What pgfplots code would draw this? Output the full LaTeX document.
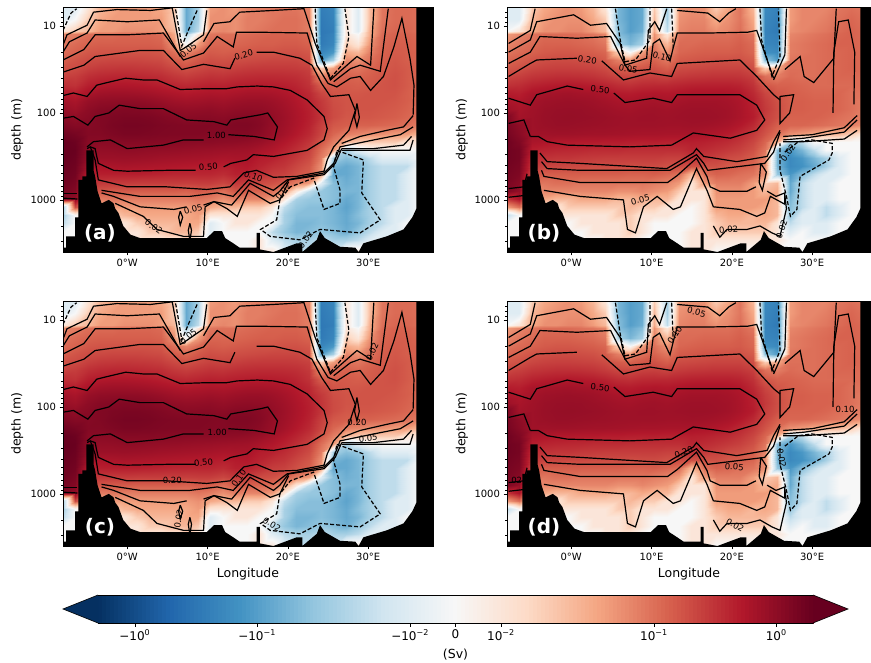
\documentclass[border=0pt]{standalone}
\usepackage{pgfplots}
\pgfplotsset{compat=1.18}
\usepackage{fontspec}
\setmainfont{DejaVu Sans}
\pgfplotsset{colormap={rdbu}{rgb255=(5,48,97) rgb255=(33,102,172) rgb255=(67,147,195) rgb255=(146,197,222) rgb255=(209,229,240) rgb255=(247,247,247) rgb255=(253,219,199) rgb255=(244,165,130) rgb255=(214,96,77) rgb255=(178,24,43) rgb255=(103,0,31)}}
% transport in 10^-2 Sv per grid node; lon = -8 + 1.53 i; symlog colour position computed per value
\def\stopmark{x}
\def\GRow#1#2{\def\GDepth{#1}\def\GLon{-8}\GRest#2 x }
\def\GRest#1 {\def\GTmp{#1}\ifx\GTmp\stopmark\else
 \pgfmathsetmacro\GMeta{(#1)/max(abs(#1),1)*(min(abs(#1),1)*.127+.428*min(log10(max(abs(#1),1)),1)+.342*max(log10(max(abs(#1),1))-1,0))}%
 \edef\GCur{\GCur (\GLon,\GDepth) [\GMeta]}%
 \pgfmathsetmacro\GLon{\GLon+1.53}%
 \expandafter\GRest\fi}
\def\GCur{}
\GRow{6.03}{-1 -1 1 3 4 5 5 5 4 2 -8 -3 5 6 5 7 8 9 9 9 7 -25 -20 1 -1 3 9 11 11 10}
\GRow{8.37}{-1 0 2 4 5 5 5 5 5 2 -8 -3 6 6 6 8 8 9 10 10 8 -28 -22 1 -1 3 9 11 11 10}
\GRow{11.5}{1 2 3 5 5 6 6 6 5 3 -8 -2 6 7 6 8 9 10 10 10 8 -30 -25 1 -1 4 10 12 12 10}
\GRow{12.3}{7 8 10 11 11 12 12 12 11 4 -3 1 9 10 10 11 12 13 13 13 11 -30 -22 1 0 4 11 13 13 11}
\GRow{16}{9 11 13 14 14 14 14 14 13 6 0 5 12 12 12 13 14 14 15 15 13 -28 -20 2 1 6 12 14 14 12}
\GRow{19.9}{11 13 16 17 17 17 17 17 16 10 7 11 15 14 15 16 17 17 18 18 16 -20 -12 4 3 8 13 15 14 13}
\GRow{24.7}{14 17 20 21 22 22 22 21 20 15 12 16 19 18 19 20 21 22 22 22 19 -10 -3 7 6 10 14 16 14 13}
\GRow{30.6}{18 20 25 28 29 30 29 28 26 21 18 21 24 23 25 27 28 28 28 27 24 2 5 10 9 12 15 17 15 13}
\GRow{38}{24 26 34 38 40 40 39 37 35 29 26 29 32 31 34 36 37 37 36 34 28 7 10 13 12 14 16 18 15 12}
\GRow{47.2}{34 32 46 52 55 55 53 50 46 41 38 41 44 43 46 48 49 48 46 41 32 14 14 15 14 15 17 18 15 12}
\GRow{58.6}{50 46 62 72 75 75 72 68 62 56 52 55 58 56 60 64 64 62 56 48 38 22 17 16 16 17 17 17 14 12}
\GRow{72.7}{70 62 85 95 98 100 98 92 84 74 70 72 76 72 78 82 82 76 66 54 42 28 19 17 17 17 17 16 14 11}
\GRow{90.2}{85 75 100 115 120 125 122 115 105 95 90 92 95 88 95 98 95 85 72 58 45 30 20 17 17 17 16 15 13 11}
\GRow{112}{105 95 110 125 135 140 140 135 125 115 108 110 110 105 115 118 110 92 76 60 46 30 20 16 16 16 15 14 12 10}
\GRow{139}{130 115 115 125 140 150 150 145 135 130 125 125 125 120 130 130 115 90 74 58 43 25 16 14 13 13 12 11 10 8}
\GRow{173}{170 150 120 120 130 140 140 135 130 128 125 125 120 118 120 120 105 85 68 52 38 22 12 8 7 6 6 5 5 3}
\GRow{214}{200 180 110 105 108 115 115 115 112 110 108 105 105 100 98 92 82 68 54 42 30 16 8 3 2 2 2 2 1 1}
\GRow{266}{200 190 100 90 92 96 96 92 90 88 85 82 80 76 74 72 62 54 44 34 24 10 5 -3 -1 0 0 0 0 0}
\GRow{330}{200 180 90 78 78 80 78 76 72 70 68 66 64 60 62 62 48 44 36 28 20 8 -3 -5 -4 -2 -1 -1 -1 0}
\GRow{410}{190 170 70 58 60 62 60 58 56 54 52 50 50 46 50 52 42 34 30 22 16 6 -6 -8 -6 -3 -2 -2 -2 0}
\GRow{509}{180 160 48 46 46 46 46 44 42 40 40 40 40 36 44 44 34 26 24 18 14 5 -8 -8 -6 -3 -2 -2 -1 0}
\GRow{632}{170 140 30 28 27 27 26 26 26 26 25 26 26 22 28 26 20 18 14 8 5 -1 -5 -7 -6 -3 -2 -2 -1 0}
\GRow{785}{150 120 20 16 15 15 14 14 14 14 13 15 14 10 16 14 12 10 5 1 -2 -4 -5 -6 -6 -3 -2 -2 -1 0}
\GRow{975}{120 100 10 8 9 8 8 8 8 8 8 9 8 6 8 7 7 5 1 -3 -4 -4 -5 -8 -6 -3 -2 -2 -1 0}
\GRow{1210}{-3 20 6 3 5 5 5 5 5 5 5 6 4 3 3 2 2 1 -2 -4 -5 -5 -6 -9 -6 -3 -2 -1 -1 0}
\GRow{1503}{-3 0 2 1 2 3 4 4 4 4 4 5 1 1 1 1 1 0 -3 -5 -5 -5 -6 -8 -5 -3 -2 -1 -1 0}
\GRow{1865}{-2 0 1 1 1 1 2 3 3 3 4 4 -1 0 1 1 0 0 -3 -6 -6 -5 -6 -8 -6 -3 -2 -1 0 0}
\GRow{2315}{0 0 1 1 1 1 1 2 2 3 3 2 -1 0 0 0 0 -2 -4 -6 -5 -4 -5 -7 -4 -2 -1 -1 0 0}
\GRow{2875}{0 0 0 0 0 1 1 1 1 1 2 1 0 0 0 0 1 -1 -2 -3 -3 -2 -3 -3 -2 -1 -1 0 0 0}
\GRow{3981}{0 0 0 0 0 0 0 0 0 0 0 0 0 0 0 0 1 1 -1 -2 -2 -1 -1 1 1 0 0 0 0 0}
\let\GridA\GCur
\def\GCur{}
\GRow{6.03}{-1 -1 2 4 5 6 5 3 1 -6 -10 -8 2 -3 5 6 6 2 4 9 3 -18 -22 5 7 7 7 9 10 9}
\GRow{8.37}{-1 -1 3 5 6 6 6 4 2 -6 -10 -8 3 -3 6 7 7 4 6 9 4 -20 -25 5 7 7 8 10 12 10}
\GRow{11.5}{0 1 4 6 6 7 7 5 3 -5 -10 -7 4 -2 7 8 8 6 7 10 5 -22 -28 6 7 8 9 11 13 11}
\GRow{12.3}{5 7 9 11 11 11 10 9 7 -5 -8 -5 6 1 9 10 10 10 10 12 9 -22 -25 7 8 9 10 12 13 11}
\GRow{16}{7 9 11 13 13 13 12 11 9 -3 -6 -3 8 3 11 11 12 12 12 14 11 -20 -22 8 9 10 11 13 13 11}
\GRow{19.9}{9 11 13 15 16 16 15 14 12 2 0 5 10 6 12 13 14 14 14 15 12 -15 -18 8 9 10 11 12 13 11}
\GRow{24.7}{12 14 17 19 20 20 19 18 15 8 6 10 13 9 15 16 17 18 18 18 15 -5 -10 9 10 10 11 12 13 11}
\GRow{30.6}{16 18 22 24 25 25 24 23 20 15 13 16 18 14 20 21 22 23 23 23 19 2 4 10 10 10 11 12 13 11}
\GRow{38}{22 25 30 32 34 34 33 31 27 22 21 24 25 23 27 29 30 31 31 30 25 10 8 11 10 10 11 12 12 10}
\GRow{47.2}{32 35 43 47 50 52 50 47 42 35 33 37 38 38 41 44 45 45 45 42 32 16 13 13 12 11 11 11 11 10}
\GRow{58.6}{48 46 60 65 68 70 66 64 57 50 48 52 54 52 56 60 60 60 58 52 38 22 16 14 13 12 12 12 10 9}
\GRow{72.7}{60 55 68 75 78 80 78 74 68 62 60 64 66 62 66 70 70 70 66 58 44 26 18 14 14 13 13 12 10 8}
\GRow{90.2}{75 62 72 80 84 85 84 80 76 70 68 72 74 70 74 76 76 74 70 60 46 28 19 14 14 13 13 12 10 8}
\GRow{112}{130 68 74 82 86 88 86 84 80 76 74 76 76 74 76 78 78 76 70 60 48 25 18 13 13 13 12 10 9 8}
\GRow{139}{140 100 74 80 84 84 82 80 78 75 74 74 74 72 72 74 72 68 62 52 38 22 14 12 12 11 10 9 8 6}
\GRow{173}{150 110 72 72 74 74 72 70 70 68 66 64 64 62 62 62 58 54 48 38 28 17 10 6 5 4 3 3 2 1}
\GRow{214}{170 130 60 56 52 52 50 50 48 48 46 45 46 44 44 46 44 40 36 30 22 12 3 -3 -2 0 0 0 0 0}
\GRow{266}{170 150 46 42 40 39 38 36 36 36 34 34 34 34 34 40 36 32 28 24 18 9 -5 -12 -6 -2 0 0 0 0}
\GRow{330}{170 150 34 32 30 30 28 27 26 26 26 26 26 24 24 32 28 24 20 18 14 7 -6 -18 -12 -6 -3 -1 0 0}
\GRow{410}{160 140 28 23 22 21 21 20 20 20 19 20 20 18 20 18 18 18 15 14 12 6 -6 -18 -14 -8 -3 -1 0 0}
\GRow{509}{150 130 20 14 14 14 14 14 14 14 13 13 14 12 10 3 10 13 12 10 9 6 -4 -12 -5 -2 -1 -1 0 0}
\GRow{632}{140 110 10 9 10 10 9 9 9 9 9 9 8 7 5 1 5 8 8 8 5 2 3 -8 -2 -1 -1 0 0 0}
\GRow{785}{130 90 6 7 7 7 7 7 7 6 6 7 6 5 2 1 1 6 6 6 5 3 4 -8 -2 -1 -1 0 0 0}
\GRow{975}{30 60 3 4 3 3 4 4 4 3 3 4 3 3 1 1 1 5 5 5 5 5 3 -6 -2 -1 -1 0 0 0}
\GRow{1210}{5 10 1 1 1 2 2 2 2 2 3 2 2 1 1 0 1 5 5 5 5 4 3 -5 -2 -1 -2 -1 0 0}
\GRow{1503}{-2 0 0 0 1 1 1 1 1 2 2 1 1 1 0 0 1 3 4 4 3 4 3 -4 -1 -1 -2 -1 0 0}
\GRow{1865}{0 0 0 0 0 0 1 1 1 1 2 1 0 0 0 0 1 2 3 3 3 3 1 -2 -1 -1 -1 0 0 0}
\GRow{2315}{0 0 0 0 0 0 0 1 1 1 2 1 0 0 0 1 1 2 2 2 2 2 1 -1 0 -1 -1 0 0 0}
\GRow{2875}{0 0 0 0 0 0 0 0 1 1 1 0 0 0 0 1 1 1 1 1 1 1 1 0 0 0 0 0 0 0}
\GRow{3981}{0 0 0 0 0 0 0 0 0 0 0 0 0 0 0 1 1 0 0 0 0 0 0 0 0 0 0 0 0 0}
\let\GridB\GCur
\newcommand\heat[1]{\edef\tmpplot{\noexpand\addplot[surf,shader=interp,mesh/cols=30,point meta=explicit] coordinates {#1};}\tmpplot}
% contours and bathymetry: lon, log10(depth)
\newcommand\CS[1]{\addplot[black,line width=1.2pt] table[row sep=crcr,header=false,x index=0,y expr=10^\thisrowno{1}]{#1};}
\newcommand\CD[1]{\addplot[black,line width=1.2pt,dash pattern=on 4pt off 2pt] table[row sep=crcr,header=false,x index=0,y expr=10^\thisrowno{1}]{#1};}
\newcommand\Lb[4]{\node[font=\fontsize{8.5}{9}\selectfont,rotate=#3,inner sep=0pt] at (axis cs:#1,#2) {#4};}
\newcommand\Bathy{\addplot[fill=black,draw=none] table[row sep=crcr,header=false,x index=0,y expr=10^\thisrowno{1}]{-8 3.7\\-8 3.55\\-7.6 3.55\\-7.6 3.42\\-6.5 3.42\\-6.5 3.2\\-6.1 3.2\\-6.1 2.77\\-5.6 2.77\\-5.6 2.73\\-5.1 2.73\\-5.1 2.43\\-4.2 2.43\\-4.2 2.66\\-4 2.73\\-3.7 2.9\\-3.2 3.04\\-2.3 3\\-1.7 3.04\\-1.5 3.1\\-1.1 3.15\\-.5 3.3\\.4 3.4\\1.6 3.44\\9.9 3.44\\10.8 3.36\\11.8 3.36\\12.2 3.44\\13.2 3.5\\14 3.55\\16.1 3.55\\16.1 3.38\\16.5 3.38\\16.5 3.57\\18.2 3.6\\21.1 3.5\\21.8 3.5\\21.8 3.6\\23.6 3.46\\24 3.36\\24.6 3.44\\26.5 3.54\\28.4 3.55\\28.8 3.6\\29.4 3.5\\32.3 3.42\\34.4 3.34\\35.5 3.2\\36 3.1\\36 .7\\38.5 .7\\38.5 3.7\\};}
\newcommand\ContA{%
\CS{-8 2.06\\-6.7 2.04\\-4.9 2.14\\-4 2.04\\-2.3 2\\-1 1.91\\1.6 1.95\\4.5 1.95\\7.4 2.08\\10.8 2.1\\12.4 2.14\\12.9 2.08\\16.6 2.02\\17.5 2\\18.7 2.16\\18.3 2.31\\15.8 2.27\\12.6 2.25\\}
\CS{9.5 2.31\\7 2.31\\4.5 2.37\\0 2.41\\-2.1 2.31\\-4.2 2.33\\-5 2.39\\}
\CS{-8 1.8\\-6.7 1.77\\-5 1.81\\-3.8 1.68\\-2.5 1.65\\-.2 1.6\\2 1.62\\3.7 1.62\\6.6 1.73\\10 1.72\\12.4 1.72\\13.7 1.7\\16.2 1.69\\18.2 1.7\\20.3 1.74\\22.4 1.85\\24.5 2.04\\24.9 2.18\\24.5 2.31\\22.4 2.43\\18.2 2.5\\15.7 2.48\\14.9 2.54\\12.9 2.58\\12 2.62\\}
\CS{8.5 2.66\\4.9 2.66\\0 2.67\\-1.7 2.66\\-3.6 2.58\\-3.8 2.5\\-4 2.41\\-4.6 2.39\\-5 2.41\\}
\CS{-8 1.53\\-5.4 1.45\\-4 1.35\\1.6 1.28\\4.5 1.28\\6.8 1.5\\9.5 1.44\\12.8 1.49\\13.4 1.37\\}
\CS{16.1 1.3\\18.2 1.3\\21.5 1.37\\23 1.45\\24.2 1.66\\25.3 1.81\\27.6 1.79\\28.4 1.97\\27.6 2.2\\25.7 2.39\\24.9 2.54\\24.5 2.67\\21.1 2.73\\18.2 2.74\\16.1 2.66\\14.5 2.69\\12.8 2.85\\9.9 2.88\\4.9 2.85\\0 2.85\\-3.6 2.77\\-4 2.54\\-4.6 2.39\\}
\CS{-8 1.22\\-7.5 1.1\\-5 .99\\-4.2 .84\\-1.3 .81\\2.9 .82\\5.6 .79\\6.6 1.28\\7 1.26\\9.5 1.1\\9.9 .82\\}
\CS{-8 1.3\\-7.2 1.18\\-5 1.08\\-4 .93\\0 .95\\4 .93\\6.6 1.35\\}
\CS{9.5 1.18\\10.8 .97\\12.8 .95\\14 .84\\18.2 .82\\22 .8\\23.4 1.2\\25.3 1.62\\26.5 1.52\\28.6 1.35\\30.3 1.45\\30.7 .8\\}
\CS{-8 1.39\\-5.4 1.27\\-4 1.1\\0 1.1\\4.5 1.08\\7 1.39\\9.5 1.31\\11.2 1.12\\13.2 1.24\\13.6 1.07\\16.2 1.07\\22.4 1.08\\23.6 1.45\\25 1.66\\}
\CS{25.7 1.64\\27.8 1.49\\29 1.45\\31.5 1.52\\32.5 .8\\}
\CS{25 1.66\\26.1 1.7\\27.8 1.6\\29 1.58\\30.3 1.74\\31.9 1.58\\33.2 1.24\\34.2 .91\\35.2 1.37\\35.7 1.68\\35.6 2.02\\}
\CS{28.6 1.89\\28.3 2.05\\28.6 2.16\\28.9 2.05\\28.6 1.89\\}
\CS{-3.2 2.89\\1.6 2.96\\7.8 2.96\\11.2 2.92\\13.2 2.96\\15.1 2.77\\18.2 2.89\\19.9 2.77\\24.5 2.69\\25.7 2.58\\26.5 2.39\\30.7 2.31\\34 2.25\\35.6 2.16\\}
\CS{26.7 2.35\\29 2.27\\32.3 2.2\\34.4 2.16\\35.6 2.03\\}
\CS{26.7 2.41\\30.7 2.41\\34.4 2.37\\35.4 2.27\\}
\CS{26.7 2.43\\30.7 2.43\\35.2 2.43\\35.6 2.31\\}
\CS{-3.2 2.92\\-1.7 2.96\\1.6 3.08\\5.8 3.11\\7.4 3.08\\}
\CS{9.5 3.06\\10.8 3.02\\13 3.06\\15.3 2.81\\18.2 2.96\\19 2.9\\20.1 2.77\\24.5 2.71\\25.9 2.58\\26.7 2.41\\}
\CS{-1.5 3.04\\2 3.19\\3.7 3.34\\7 3.42\\9.5 3.42\\9.7 3.08\\10.8 3.02\\12.4 3.1\\13.7 3.19\\15.1 2.89\\17.8 3.04\\19 3\\20.1 2.79\\}
\CS{6.6 3.13\\6.9 3.2\\6.6 3.29\\6.4 3.2\\6.6 3.13\\}
\CS{7.8 3.27\\8 3.35\\7.8 3.47\\7.6 3.35\\7.8 3.27\\}
\CS{-8 2.93\\-6.2 2.93\\}
\CS{-8 2.98\\-6.2 2.99\\}
\CD{26.1 2.43\\29.4 2.54\\29.2 2.92\\31.5 3.23\\29 3.38\\24 3.34\\21.5 3.46\\17.8 3.42\\16.6 3.34\\18.6 3.23\\19 3\\20.3 2.85\\23.2 2.75\\24.5 3.11\\26.5 3.04\\26.5 2.89\\25.7 2.62\\26.1 2.43\\}
\CD{23.4 .8\\23.6 1.2\\25.3 1.6\\26.9 1.43\\27.6 1.12\\27.1 .8\\}
\CD{8.7 .82\\7.6 1.05\\6.8 1.23\\6.2 .9\\6 .8\\}
\CD{-8 1.05\\-7 .85\\-6.3 .8\\}
}
\newcommand\ContB{%
\CS{-7.8 1.2\\-5.1 1.05\\-4.5 .8\\}
\CS{-7.8 1.3\\-5.1 1.16\\-4.3 .95\\.3 .87\\2.4 .99\\4.4 .97\\6.1 1.2\\6.7 1.45\\9.4 1.37\\9.6 1.05\\10.4 .95\\11 1.05\\11.9 .8\\}
\CS{-7.8 1.43\\-5.1 1.3\\-3.9 1.12\\.7 1.14\\4.9 1.12\\6.7 1.45\\7.3 1.52\\9.8 1.5\\10.2 1.2\\11 1.15\\12.3 1.4\\12.7 1.25\\13.2 1.08\\17 1.08\\22 1.07\\23.1 1.05\\25.2 1.6\\}
\CS{13.2 .82\\17 .85\\18.5 .95\\19.6 .85\\20.5 .8\\}
\CS{-7.8 1.58\\-5.1 1.43\\-4.3 1.39\\.7 1.37\\}
\CS{3.8 1.4\\6.5 1.62\\9.8 1.54\\12.5 1.58\\13.2 1.43\\21 1.39\\23.1 1.58\\25.2 1.79\\26 1.85\\}
\CS{-7.8 1.83\\-5.1 1.91\\-4.3 1.79\\-.5 1.69\\1.5 1.73\\}
\CS{5.3 1.77\\6.7 1.88\\10.2 1.83\\12.5 1.88\\13.2 1.79\\21 1.79\\23.1 1.91\\24.1 2.08\\23.1 2.2\\19.8 2.29\\15.2 2.23\\12.5 2.37\\7.3 2.39\\-.5 2.37\\-3 2.33\\-4.1 2.27\\-5.1 2.27\\}
\CS{-7.8 2.12\\-5.9 2.08\\-5.1 2.27\\}
\CS{-7.8 2.87\\-5.9 2.85\\-5.5 2.7\\}
\CS{-7.8 2.97\\-5.9 2.95\\}
\CS{-3.9 2.46\\-3 2.56\\1.1 2.58\\11.9 2.64\\15.2 2.46\\15.6 2.41\\16.5 2.5\\20.6 2.56\\24.4 2.5\\25.2 2.33\\26 2.2\\}
\CS{-3.7 2.56\\-3 2.64\\1.1 2.66\\12.3 2.66\\15.6 2.48\\16.5 2.58\\17 2.66\\24.1 2.58\\25.2 2.45\\26 2.22\\}
\CS{-3.7 2.66\\-3.4 2.73\\1.1 2.8\\6 2.8\\12 2.8\\13.2 2.72\\15.6 2.52\\16.9 2.73\\17.3 2.85\\18.5 2.9\\21.9 2.9\\23 2.85\\}
\CS{-3.4 2.89\\1.1 2.96\\6.5 3\\7 3.34\\8 3.38\\9 3.08\\10.7 2.96\\12.7 3.11\\13.6 3.08\\15.6 2.64\\16.9 2.89\\17.7 3.08\\21 3.11\\23.1 3.19\\24.1 3.15\\24.8 2.96\\26.6 3.05\\26.6 2.92\\25.5 2.96\\24.4 2.9\\}
\CS{17.7 3.3\\18.5 3.43\\19.4 3.34\\21.9 3.34\\23.5 3.3\\25 3.38\\26 3.42\\26.8 3.1\\26.6 2.95\\}
\CS{23.6 2.58\\24.3 2.68\\23.8 2.89\\23.4 2.8\\23.6 2.58\\}
\CS{26.8 .8\\26.6 1.33\\25.2 1.62\\}
\CS{26.6 1.5\\28.5 1.35\\29 1.58\\30.2 1.65\\32.7 1.37\\33 .8\\}
\CS{32.6 2.0\\32.7 1.3\\33.3 .95\\34.5 .93\\35.3 1.3\\35.2 1.9\\}
\CS{26 1.81\\27.7 1.79\\27.2 2\\26 2.12\\26 1.81\\}
\CS{26.4 2.27\\30 2.25\\34 2.17\\35.6 2.03\\}
\CS{26.4 2.31\\29 2.29\\34 2.22\\35.6 2.08\\}
\CS{26.4 2.33\\29 2.33\\34 2.3\\35.6 2.2\\}
\CD{26.6 2.45\\28.3 2.33\\30 2.31\\32.5 2.35\\32.5 2.46\\32.1 2.54\\28.5 2.73\\28.1 3.11\\27.3 3.19\\26.8 2.96\\26 2.66\\26 2.35\\}
\CD{5.5 .8\\6.1 1.16\\6.7 1.41\\8 1.39\\9.8 1.16\\9.8 .8\\}
\CD{23.5 .8\\23.7 1.16\\25 1.58\\26 1.35\\25.8 .8\\}
\CD{12.5 .8\\12.7 1.25\\}
}
\pgfplotsset{panel/.style={scale only axis,height=245pt,anchor=north west,
 xmin=-8,point meta min=-1,point meta max=1,colormap name=rdbu,
 xtick={0,10,20,30},xticklabels={0°W,10°E,20°E,30°E},
 ytick={10,100,1000},yticklabels={10,100,1000},
 minor ytick={7,8,9,20,30,40,50,60,70,80,90,200,300,400,500,600,700,800,900,2000,3000},
 xtick pos=bottom,ytick pos=left,tick align=outside,
 tick style={black,line width=.6pt},major tick length=3.5pt,minor tick length=2pt,
 axis line style={line width=.6pt},axis on top,
 tick label style={font=\fontsize{10}{12}\selectfont},
 label style={font=\fontsize{12.5}{14}\selectfont},
 ylabel={depth (m)},ylabel style={at={(axis description cs:-.124,.5)},anchor=center},
 xlabel style={at={(axis description cs:.5,-.115)},anchor=center},
 clip=true}}
\newcommand\Letter[1]{\node[font=\fontsize{20}{21}\selectfont\bfseries,white] at (axis cs:-3.4,2400) {#1};}
\begin{document}
\begin{tikzpicture}
\useasboundingbox (0,0) rectangle (871pt,-663pt);
% (a)
\begin{axis}[ymode=log,y dir=reverse,ymin=6.03,ymax=3981,panel,width=370pt,at={(63pt,-7pt)},xmax=38.07]
\heat{\GridA}\ContA\Bathy
\Lb{7.6}{19}{40}{0.05}\Lb{14.5}{21.5}{15}{0.20}\Lb{11.1}{182}{0}{1.00}\Lb{10.1}{417}{5}{0.50}\Lb{15.7}{537}{-20}{0.10}\Lb{8.2}{1288}{15}{0.05}\Lb{3.3}{2042}{-35}{0.02}\Lb{22.2}{2884}{55}{0.02}\Lb{19.4}{794}{50}{0.02}
\Letter{(a)}
\end{axis}
% (b)
\begin{axis}[ymode=log,y dir=reverse,ymin=6.03,ymax=3981,panel,width=364pt,at={(507pt,-7pt)},xmax=37.33]
\heat{\GridB}\ContB\Bathy
\Lb{2}{24.5}{-10}{0.20}\Lb{3.6}{54}{-5}{0.50}\Lb{7.1}{31}{-10}{0.05}\Lb{11.3}{22.6}{-15}{0.10}\Lb{8.6}{1000}{15}{0.05}\Lb{19.6}{2188}{5}{0.02}\Lb{26.2}{2188}{70}{0.02}\Lb{27}{288}{55}{0.02}
\Letter{(b)}
\end{axis}
% (c)
\begin{axis}[ymode=log,y dir=reverse,ymin=6.03,ymax=3981,panel,width=370pt,at={(63pt,-301pt)},xmax=38.07,xlabel={Longitude}]
\heat{\GridA}\ContA\Bathy
\Lb{7.6}{15.5}{40}{0.05}\Lb{30.5}{23}{65}{0.02}\Lb{11.2}{195}{0}{1.00}\Lb{9.5}{437}{5}{0.50}\Lb{5.6}{692}{0}{0.20}\Lb{28.6}{151}{0}{0.20}\Lb{30}{229}{5}{0.05}\Lb{13.9}{660}{55}{0.10}\Lb{6.4}{1950}{80}{0.02}\Lb{18}{2240}{-30}{0.02}
\Letter{(c)}
\end{axis}
% (d)
\begin{axis}[ymode=log,y dir=reverse,ymin=6.03,ymax=3981,panel,width=364pt,at={(507pt,-301pt)},xmax=37.33,xlabel={Longitude}]
\heat{\GridB}\ContB\Bathy
\Lb{3.6}{60}{-5}{0.50}\Lb{15.6}{8.1}{-15}{0.05}\Lb{12.9}{14.8}{55}{0.10}\Lb{14}{331}{20}{0.20}\Lb{20.3}{490}{-5}{0.05}\Lb{20.4}{2290}{-30}{0.02}\Lb{34.1}{107}{0}{0.10}\Lb{26.2}{389}{-80}{0.02}\Lb{-7.3}{708}{0}{0.02}
\Letter{(d)}
\end{axis}
% colour bar
\begin{axis}[scale only axis,width=715pt,height=28pt,at={(98pt,-595pt)},anchor=north west,
 xmin=-1,xmax=1,ymin=0,ymax=1,clip=false,ytick=\empty,axis on top,view={0}{90},
 point meta min=-1,point meta max=1,colormap name=rdbu,
 xtick={-.897,-.555,-.127,0,.127,.555,.897},
 xticklabels={−10\textsuperscript{0},−10\textsuperscript{−1},−10\textsuperscript{−2},0,10\textsuperscript{−2},10\textsuperscript{−1},10\textsuperscript{0}},
 xtick pos=bottom,tick align=outside,tick style={black,line width=.6pt},major tick length=3.5pt,
 tick label style={font=\fontsize{12}{14}\selectfont},
 xlabel={(Sv)},label style={font=\fontsize{12.5}{14}\selectfont},xlabel style={at={(axis description cs:.5,-1.14)},anchor=center},
 separate axis lines,y axis line style={draw=none},
 axis line style={line width=.6pt}]
\addplot3[surf,shader=flat,domain=-1:1,y domain=0:1,samples=180,samples y=2,point meta=x]{0};
\addplot[fill={rgb,255:red,5;green,48;blue,97},draw=black,line width=.6pt] coordinates {(-1,0) (-1.098,.5) (-1,1)};
\addplot[fill={rgb,255:red,103;green,0;blue,31},draw=black,line width=.6pt] coordinates {(1,0) (1.098,.5) (1,1)};
\end{axis}
\end{tikzpicture}
\end{document}
